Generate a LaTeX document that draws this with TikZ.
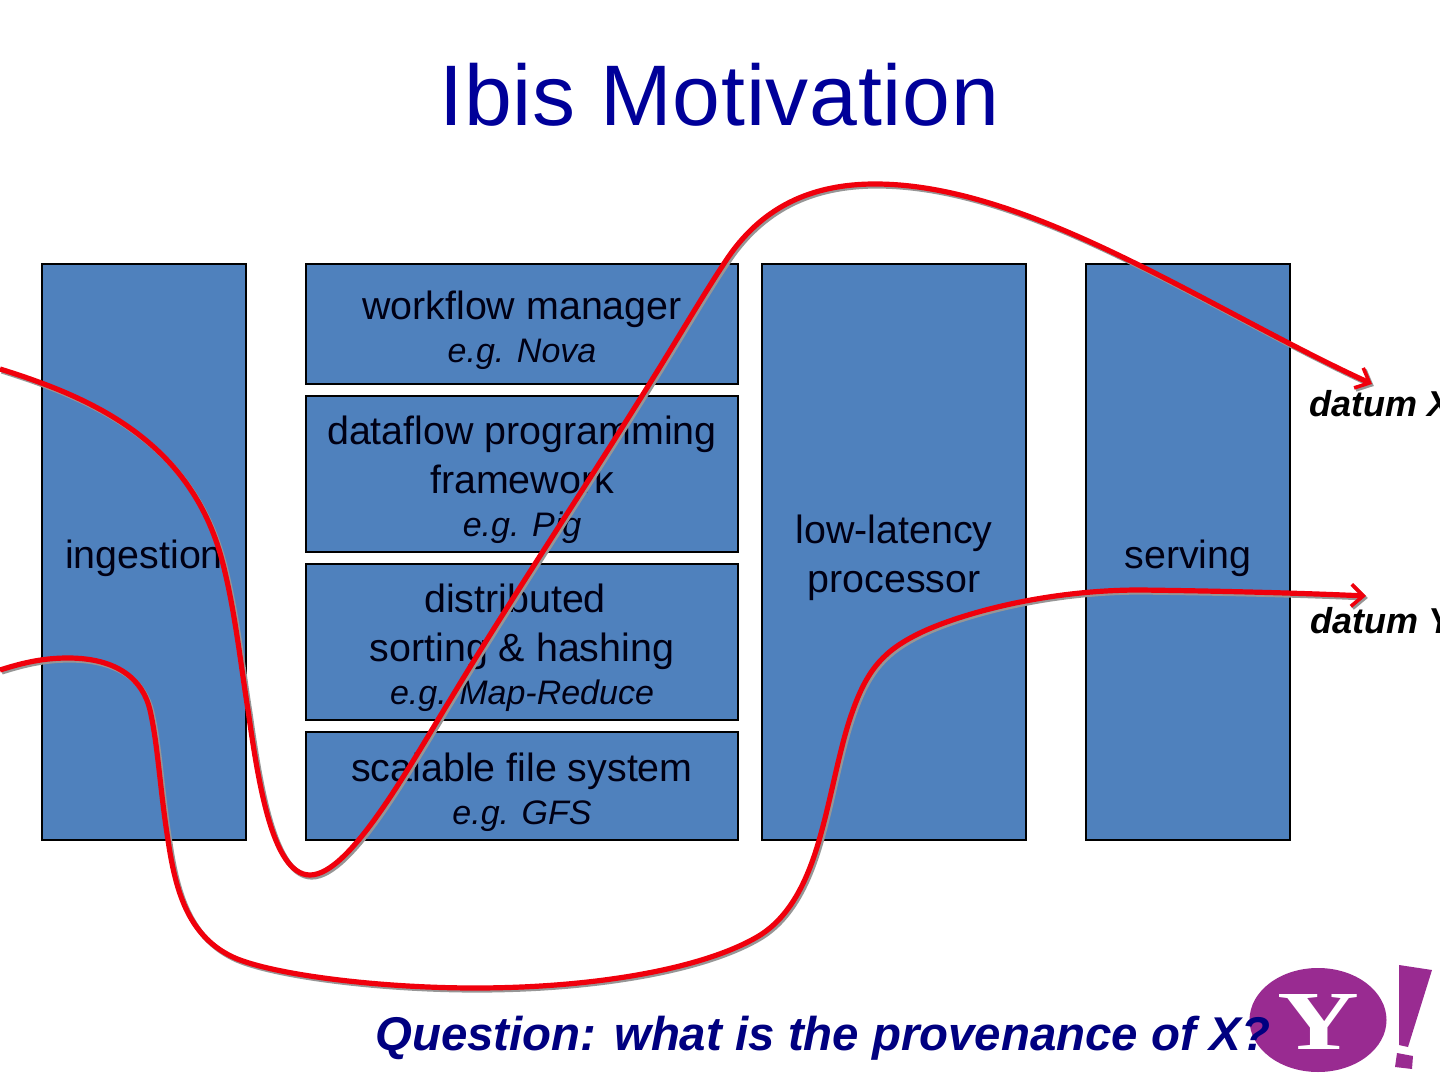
\documentclass[tikz,border=0pt]{standalone}
\usepackage{fontspec}
\setmainfont{Liberation Sans}
\newfontfamily\logofont{Liberation Serif}
\usetikzlibrary{shapes.geometric, arrows.meta, positioning}
\definecolor{boxblue}{RGB}{79,129,189}
\definecolor{boxtext}{RGB}{0,0,20}
\definecolor{titleblue}{RGB}{0,0,153}
\definecolor{questionblue}{RGB}{0,0,128}
\definecolor{traceshadow}{RGB}{150,150,150}
\definecolor{tracered}{RGB}{240,0,12}
\definecolor{yahoopurple}{RGB}{153,43,145}
\newcommand{\toppad}{\rule{0pt}{20.5pt}}
\newcommand{\sublbl}[1]{{\fontsize{17}{22}\selectfont\itshape #1}}

\begin{document}
\begin{tikzpicture}[
  x=0.5pt, y=-0.5pt,
  stagebox/.style={rectangle, draw=black, fill=boxblue, line width=0.8pt,
              align=center, inner sep=0pt, text=boxtext,
              font=\fontsize{19.7}{24.5}\selectfont},
  trace/.style={draw=tracered, line width=2.6pt,
              -{Straight Barb[length=6pt, width=11pt, line width=1.8pt]}},
  traceback/.style={draw=traceshadow, line width=2.6pt,
              -{Straight Barb[length=6pt, width=11pt, line width=1.8pt]},
              transform canvas={shift={(0.9pt,-1pt)}}},
  datumlbl/.style={font=\fontsize{18}{22}\selectfont\bfseries\itshape,
              anchor=base west, inner sep=0pt}
]
\useasboundingbox (0,0) rectangle (1440,1080);

% ── Title ──
\node[text=titleblue, font=\fontsize{43}{50}\selectfont\addfontfeature{LetterSpace=0.9}]
  (title) at (719.5,95) {Ibis Motivation};

% ── Stages, left to right ──
\node[stagebox, minimum width=102pt, minimum height=288pt] (ingest) at (144,552)
  {\toppad ingestion};
\node[stagebox, minimum width=216pt, minimum height=60pt] (flowmgr) at (522,324)
  {\toppad workflow manager\\[-3pt]\sublbl{e.g. Nova}};
\node[stagebox, minimum width=216pt, minimum height=78pt] (dataflow) at (522,474)
  {\toppad dataflow programming\\framework\\[-3pt]\sublbl{e.g. Pig}};
\node[stagebox, minimum width=216pt, minimum height=78pt] (sorting) at (522,642)
  {\toppad distributed\hspace*{7pt}\\sorting \& hashing\\[-3pt]\sublbl{e.g. Map-Reduce}};
\node[stagebox, minimum width=216pt, minimum height=54pt] (filesys) at (522,786)
  {\toppad scalable file system\\[-3pt]\sublbl{e.g. GFS}};
\node[stagebox, minimum width=132pt, minimum height=288pt] (lowlat) at (894,552)
  {\toppad low-latency\\processor};
\node[stagebox, minimum width=102pt, minimum height=288pt] (serving) at (1188,552)
  {\toppad serving};

% ── Free ends of the two traces ──
\coordinate (srcX) at (0,369);
\coordinate (srcY) at (0,670);
\coordinate (dstX) at (1372,384);
\coordinate (dstY) at (1366,596);

\foreach \tracestyle in {traceback, trace} {
  \draw[\tracestyle] (srcX) .. controls (90,397) and (190,440) .. (222,560)
    .. controls (235,610) and (240,660) .. (248,710)
    .. controls (258,780) and (272,875) .. (310,875)
    .. controls (350,875) and (410,765) .. (450,700)
    .. controls (510,600) and (590,480) .. (650,383)
    .. controls (680,335) and (700,300) .. (725,262)
    .. controls (760,208) and (810,184) .. (875,184)
    .. controls (1030,184) and (1210,310) .. (dstX);
  \draw[\tracestyle] (srcY) .. controls (25,662) and (45,658) .. (68,658)
    .. controls (118,658) and (143,680) .. (150,710)
    .. controls (158,745) and (160,790) .. (168,840)
    .. controls (176,895) and (190,938) .. (235,958)
    .. controls (275,975) and (380,988) .. (475,988)
    .. controls (590,988) and (700,970) .. (757,937)
    .. controls (790,918) and (808,880) .. (820,837)
    .. controls (832,795) and (840,745) .. (853,710)
    .. controls (868,668) and (885,650) .. (920,633)
    .. controls (955,616) and (1040,590) .. (1140,590)
    .. controls (1220,591) and (1300,593) .. (dstY);
}

% ── Labels at the trace ends ──
\node[datumlbl] (datumX) at (1309,416) {datum X};
\node[datumlbl] (datumY) at (1310,633) {datum Y};

% ── Logo ──
\node[ellipse, fill=yahoopurple, minimum width=68.5pt, minimum height=52pt,
      inner sep=0pt] (logo) at (1318,1020) {};
\node[text=white, xscale=1.35, font=\logofont\bfseries\fontsize{42}{42}\selectfont]
  (logoY) at (1318,1022) {Y};
\fill[yahoopurple] (1399,965) -- (1432,970) -- (1408,1047) -- (1399,1045) -- cycle;
\fill[yahoopurple] (1397,1053) -- (1413,1056) -- (1412,1069) -- (1395,1067) -- cycle;

% ── Question ──
\node[text=questionblue, anchor=base west, inner sep=0pt,
      font=\fontsize{23.7}{28}\selectfont\bfseries\itshape] (question) at (375,1050)
  {Question: what is the provenance of X?};

\end{tikzpicture}
\end{document}
